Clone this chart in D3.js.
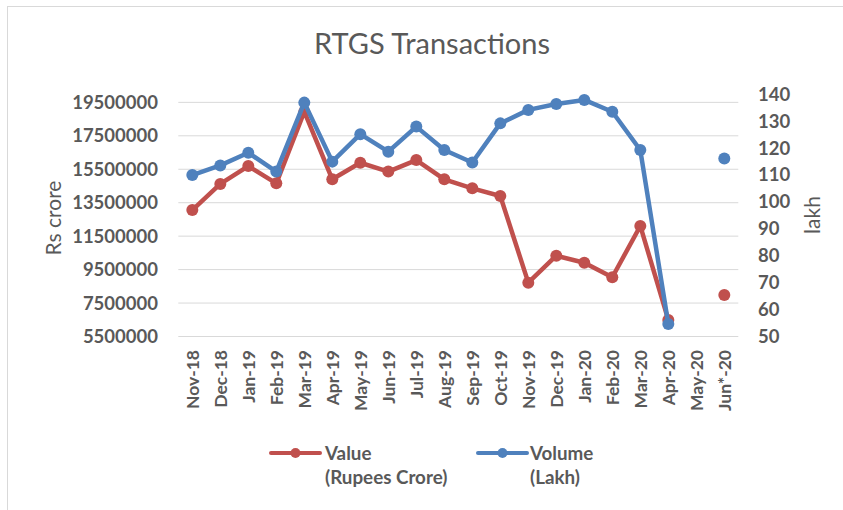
<!DOCTYPE html>
<html>
<head>
<meta charset="utf-8">
<script src="https://cdn.jsdelivr.net/npm/d3@7"></script>
<style>
  body { margin: 0; background: #fff; }
  svg text { font-family: Lato, "Open Sans", sans-serif; fill: #595959; }
</style>
</head>
<body>
<div id="chart"></div>
<script>
// data
var months = ['Nov-18', 'Dec-18', 'Jan-19', 'Feb-19', 'Mar-19', 'Apr-19', 'May-19', 'Jun-19',
  'Jul-19', 'Aug-19', 'Sep-19', 'Oct-19', 'Nov-19', 'Dec-19', 'Jan-20', 'Feb-20',
  'Mar-20', 'Apr-20', 'May-20', 'Jun*-20'];
var valueCrore = [13060000, 14620000, 15690000, 14660000, 18940000, 14900000, 15890000, 15360000,
  16050000, 14900000, 14360000, 13900000, 8720000, 10330000, 9910000, 9040000,
  12110000, 6490000, null, 7980000];
var volumeLakh = [109.9, 113.5, 118.2, 111.2, 136.8, 114.9, 125.1, 118.6,
  127.9, 119.2, 114.6, 129.1, 134.1, 136.3, 137.8, 133.4,
  119.2, 54.6, null, 116.1];
var leftTicks = [5500000, 7500000, 9500000, 11500000, 13500000, 15500000, 17500000, 19500000];
var rightTicks = [50, 60, 70, 80, 90, 100, 110, 120, 130, 140];

var width = 843, height = 510;
var svg = d3.select('#chart').append('svg')
  .attr('width', width)
  .attr('height', height);

// chart frame
svg.append('rect')
  .attr('x', 7.5).attr('y', 6.5)
  .attr('width', 1000).attr('height', 1000)
  .style('fill', 'none')
  .style('stroke', '#d9d9d9');

var plotTop = 94, plotBottom = 336.5, plotLeft = 178.3, plotRight = 738.3;

var x = d3.scaleBand().domain(months).range([plotLeft, plotRight]);
var yL = d3.scaleLinear().domain([5500000, 20000000]).range([plotBottom, plotTop]);
var yR = d3.scaleLinear().domain([50, 140]).range([plotBottom, plotTop]);
var cx = function(m) { return x(m) + x.bandwidth() / 2; };

// gridlines
svg.append('g').selectAll('line')
  .data(leftTicks)
  .enter().append('line')
  .attr('x1', plotLeft).attr('x2', plotRight)
  .attr('y1', function(d) { return yL(d); })
  .attr('y2', function(d) { return yL(d); })
  .style('stroke', '#d9d9d9')
  .style('stroke-width', 1);

// left axis labels
svg.append('g').selectAll('text')
  .data(leftTicks)
  .enter().append('text')
  .attr('x', 158)
  .attr('y', function(d) { return yL(d); })
  .attr('dy', '0.36em')
  .attr('text-anchor', 'end')
  .style('font-size', '18.5px')
  .style('font-weight', 'bold')
  .text(function(d) { return d; });

// right axis labels
svg.append('g').selectAll('text')
  .data(rightTicks)
  .enter().append('text')
  .attr('x', 758)
  .attr('y', function(d) { return yR(d); })
  .attr('dy', '0.36em')
  .attr('text-anchor', 'start')
  .style('font-size', '18.5px')
  .style('font-weight', 'bold')
  .text(function(d) { return d; });

// category labels, rotated
svg.append('g').selectAll('text')
  .data(months)
  .enter().append('text')
  .attr('transform', function(d) { return 'translate(' + cx(d) + ',350) rotate(-90)'; })
  .attr('dy', '0.36em')
  .attr('text-anchor', 'end')
  .style('font-size', '17.5px')
  .style('font-weight', 'bold')
  .text(function(d) { return d; });

// axis titles
svg.append('text')
  .attr('transform', 'translate(53,218) rotate(-90)')
  .attr('dy', '0.36em')
  .attr('text-anchor', 'middle')
  .style('font-size', '21px')
  .text('Rs crore');

svg.append('text')
  .attr('transform', 'translate(812,215) rotate(-90)')
  .attr('dy', '0.36em')
  .attr('text-anchor', 'middle')
  .style('font-size', '21px')
  .text('lakh');

// title
svg.append('text')
  .attr('x', 432).attr('y', 54)
  .attr('text-anchor', 'middle')
  .style('font-size', '29px')
  .text('RTGS Transactions');

// series
var series = [
  { name: 'value', data: valueCrore, y: yL, color: '#c0504d' },
  { name: 'volume', data: volumeLakh, y: yR, color: '#4f81bd' }
];

series.forEach(function(s) {
  var pts = months.map(function(m, i) { return { m: m, v: s.data[i] }; });
  var line = d3.line()
    .defined(function(d) { return d.v !== null; })
    .x(function(d) { return cx(d.m); })
    .y(function(d) { return s.y(d.v); });
  var g = svg.append('g');
  g.append('path')
    .datum(pts)
    .attr('d', line)
    .style('fill', 'none')
    .style('stroke', s.color)
    .style('stroke-width', 4.5)
    .style('stroke-linejoin', 'round')
    .style('stroke-linecap', 'round');
  g.selectAll('circle')
    .data(pts.filter(function(d) { return d.v !== null; }))
    .enter().append('circle')
    .attr('cx', function(d) { return cx(d.m); })
    .attr('cy', function(d) { return s.y(d.v); })
    .attr('r', 6)
    .style('fill', s.color);
});

// legend
var legend = [
  { lines: ['Value', '(Rupees Crore)'], color: '#c0504d', x1: 271, x2: 320, tx: 325 },
  { lines: ['Volume', '(Lakh)'], color: '#4f81bd', x1: 478, x2: 527, tx: 530 }
];
legend.forEach(function(l) {
  var g = svg.append('g');
  g.append('line')
    .attr('x1', l.x1).attr('x2', l.x2)
    .attr('y1', 453).attr('y2', 453)
    .style('stroke', l.color)
    .style('stroke-width', 4)
    .style('stroke-linecap', 'round');
  g.append('circle')
    .attr('cx', (l.x1 + l.x2) / 2).attr('cy', 453)
    .attr('r', 5)
    .style('fill', l.color);
  l.lines.forEach(function(t, i) {
    g.append('text')
      .attr('x', l.tx).attr('y', 459.5 + i * 24)
      .style('font-size', '18.8px')
      .style('font-weight', 'bold')
      .text(t);
  });
});
</script>
</body>
</html>
